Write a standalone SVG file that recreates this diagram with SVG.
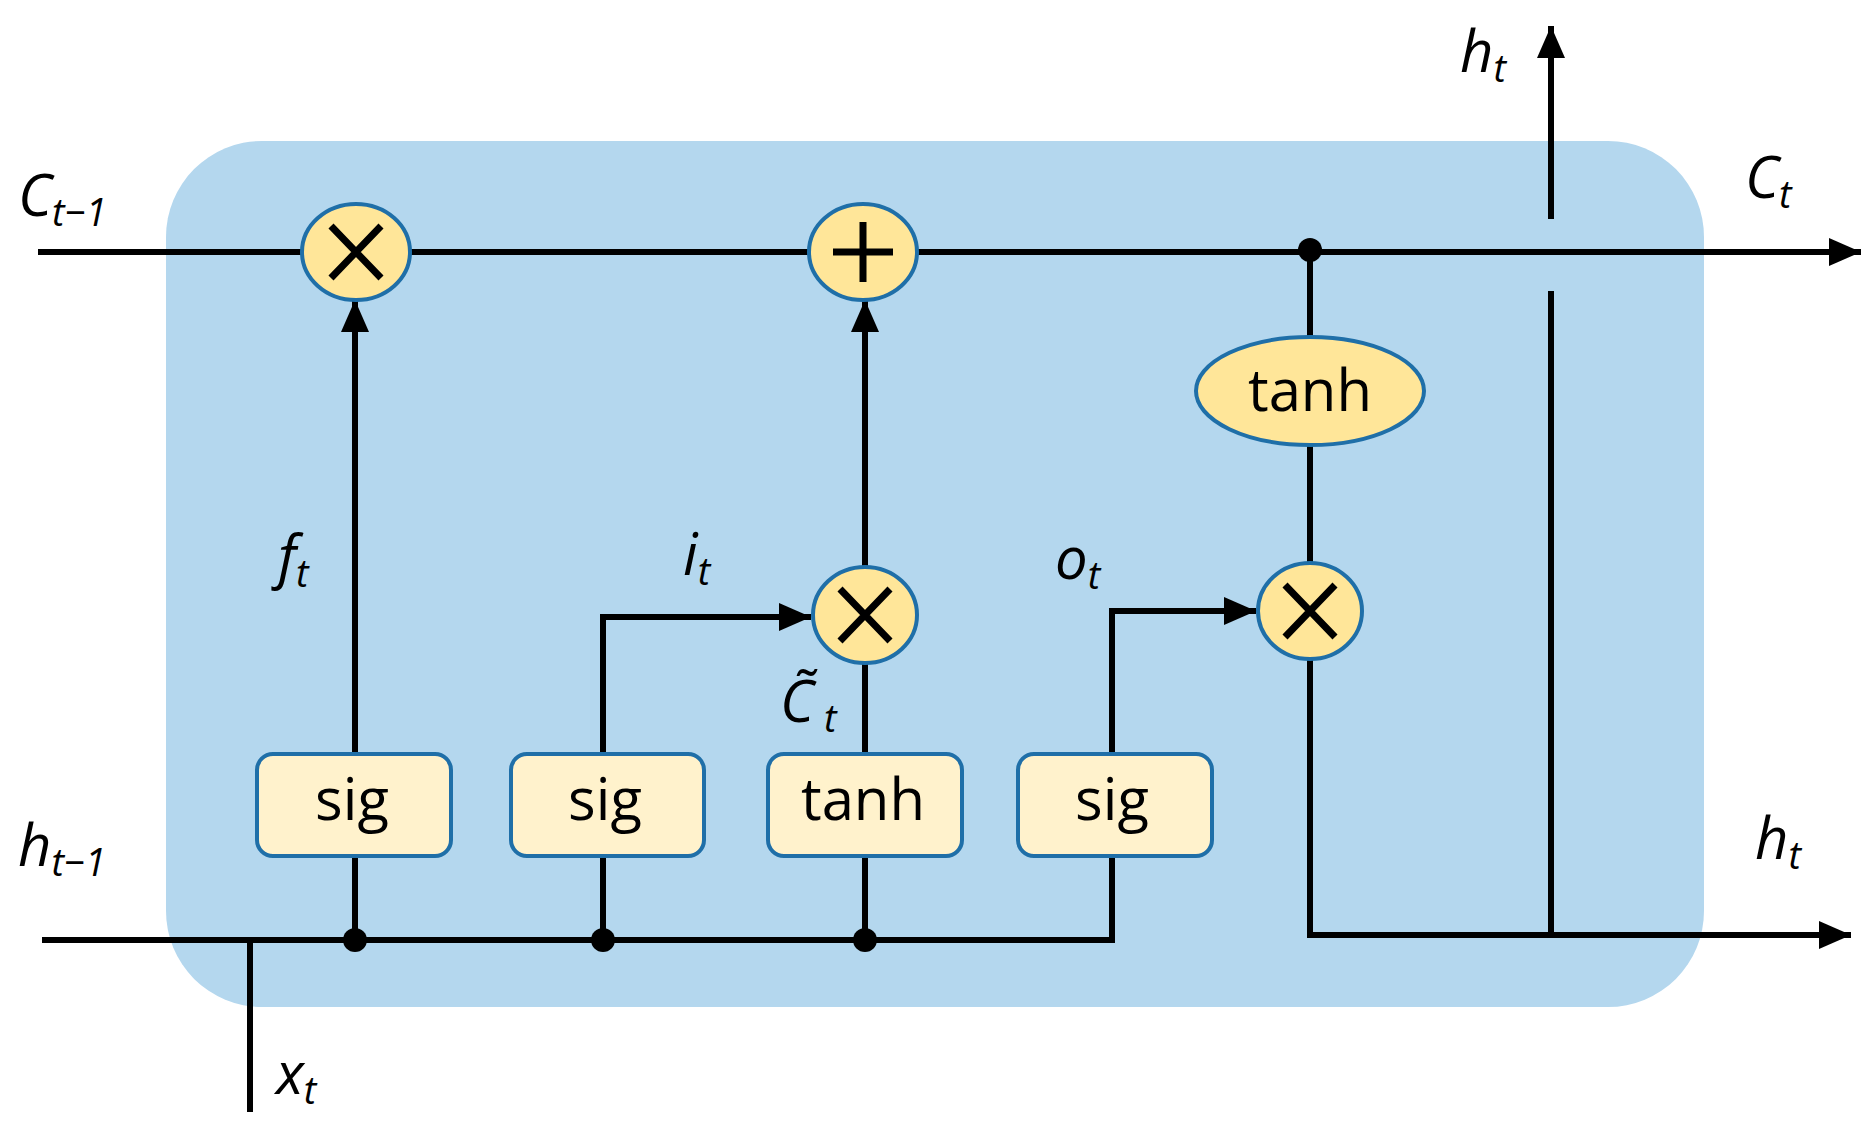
<svg xmlns="http://www.w3.org/2000/svg" width="1875" height="1130" viewBox="0 0 1875 1130">
<defs>
<marker id="ah" viewBox="0 0 10 10" refX="10" refY="5" markerWidth="32" markerHeight="28" orient="auto" markerUnits="userSpaceOnUse" preserveAspectRatio="none"><path d="M0,0 L10,5 L0,10 z" fill="#000"/></marker>
</defs>
<style>
.ln{stroke:#000;stroke-width:6;fill:none}
.op{fill:#ffe699;stroke:#1f6fa8;stroke-width:4}
.bx{fill:#fff2cc;stroke:#1f6fa8;stroke-width:4}
.sym{stroke:#000;stroke-width:7;fill:none}
.t{font-family:"Open Sans","Liberation Sans",sans-serif;font-size:58px;text-anchor:middle;fill:#000}
.lb{font-family:"Open Sans","Liberation Sans",sans-serif;font-style:italic;font-size:58px;fill:#000}
.sb{font-size:38px}
</style>
<rect x="166" y="141" width="1538" height="866" rx="96" fill="#b4d7ee"/>
<g id="connectors">
<line class="ln" x1="38" y1="252" x2="1861" y2="252" marker-end="url(#ah)"/>
<polyline class="ln" points="42,940 1112,940 1112,856"/>
<line class="ln" x1="250" y1="940" x2="250" y2="1112"/>
<line class="ln" x1="355" y1="754" x2="355" y2="300" marker-end="url(#ah)"/>
<line class="ln" x1="355" y1="856" x2="355" y2="940"/>
<line class="ln" x1="603" y1="856" x2="603" y2="940"/>
<line class="ln" x1="865" y1="856" x2="865" y2="940"/>
<polyline class="ln" points="603,754 603,617 811,617" marker-end="url(#ah)"/>
<line class="ln" x1="865" y1="754" x2="865" y2="663"/>
<line class="ln" x1="865" y1="567" x2="865" y2="300" marker-end="url(#ah)"/>
<polyline class="ln" points="1112,754 1112,611 1256,611" marker-end="url(#ah)"/>
<line class="ln" x1="1310" y1="252" x2="1310" y2="563"/>
<polyline class="ln" points="1310,659 1310,935 1851,935" marker-end="url(#ah)"/>
<line class="ln" x1="1551" y1="935" x2="1551" y2="291"/>
<line class="ln" x1="1551" y1="219" x2="1551" y2="26" marker-end="url(#ah)"/>
<circle cx="355" cy="940" r="12"/>
<circle cx="603" cy="940" r="12"/>
<circle cx="865" cy="940" r="12"/>
<circle cx="1310" cy="250" r="12"/>
</g>
<g id="mul1"><ellipse class="op" cx="356" cy="252" rx="54" ry="48"/><path class="sym" d="M331,226 L381,278 M381,226 L331,278"/></g>
<g id="add"><ellipse class="op" cx="863" cy="252" rx="54" ry="48"/><path class="sym" d="M863,222 V282 M833,252 H893"/></g>
<g id="tanhC"><ellipse class="op" cx="1310" cy="391" rx="114" ry="54"/><text class="t" x="1310" y="411">tanh</text></g>
<g id="mul2"><ellipse class="op" cx="865" cy="615" rx="52" ry="48"/><path class="sym" d="M840,589 L890,641 M890,589 L840,641"/></g>
<g id="mul3"><ellipse class="op" cx="1310" cy="611" rx="52" ry="48"/><path class="sym" d="M1285,585 L1335,637 M1335,585 L1285,637"/></g>
<g id="sig1"><rect class="bx" x="257" y="754" width="194" height="102" rx="16"/><text class="t" x="352" y="820">sig</text></g>
<g id="sig2"><rect class="bx" x="511" y="754" width="193" height="102" rx="16"/><text class="t" x="605" y="820">sig</text></g>
<g id="tanh1"><rect class="bx" x="768" y="754" width="194" height="102" rx="16"/><text class="t" x="863" y="820">tanh</text></g>
<g id="sig3"><rect class="bx" x="1018" y="754" width="194" height="102" rx="16"/><text class="t" x="1112" y="820">sig</text></g>
<g id="labels">
<text class="lb" x="18" y="216">C<tspan class="sb" dy="10">t−1</tspan></text>
<text class="lb" x="18" y="866">h<tspan class="sb" dy="10">t−1</tspan></text>
<text class="lb" x="278" y="577">f<tspan class="sb" dy="10">t</tspan></text>
<text class="lb" x="683" y="575">i<tspan class="sb" dy="10">t</tspan></text>
<text class="lb" x="1055" y="579">o<tspan class="sb" dy="10">t</tspan></text>
<text class="lb" x="780" y="722">C̃<tspan class="sb" dy="10"> t</tspan></text>
<text class="lb" x="1460" y="72">h<tspan class="sb" dy="10">t</tspan></text>
<text class="lb" x="1745" y="198">C<tspan class="sb" dy="10">t</tspan></text>
<text class="lb" x="1755" y="859">h<tspan class="sb" dy="10">t</tspan></text>
<text class="lb" x="276" y="1094">x<tspan class="sb" dy="10">t</tspan></text>
</g>
</svg>
